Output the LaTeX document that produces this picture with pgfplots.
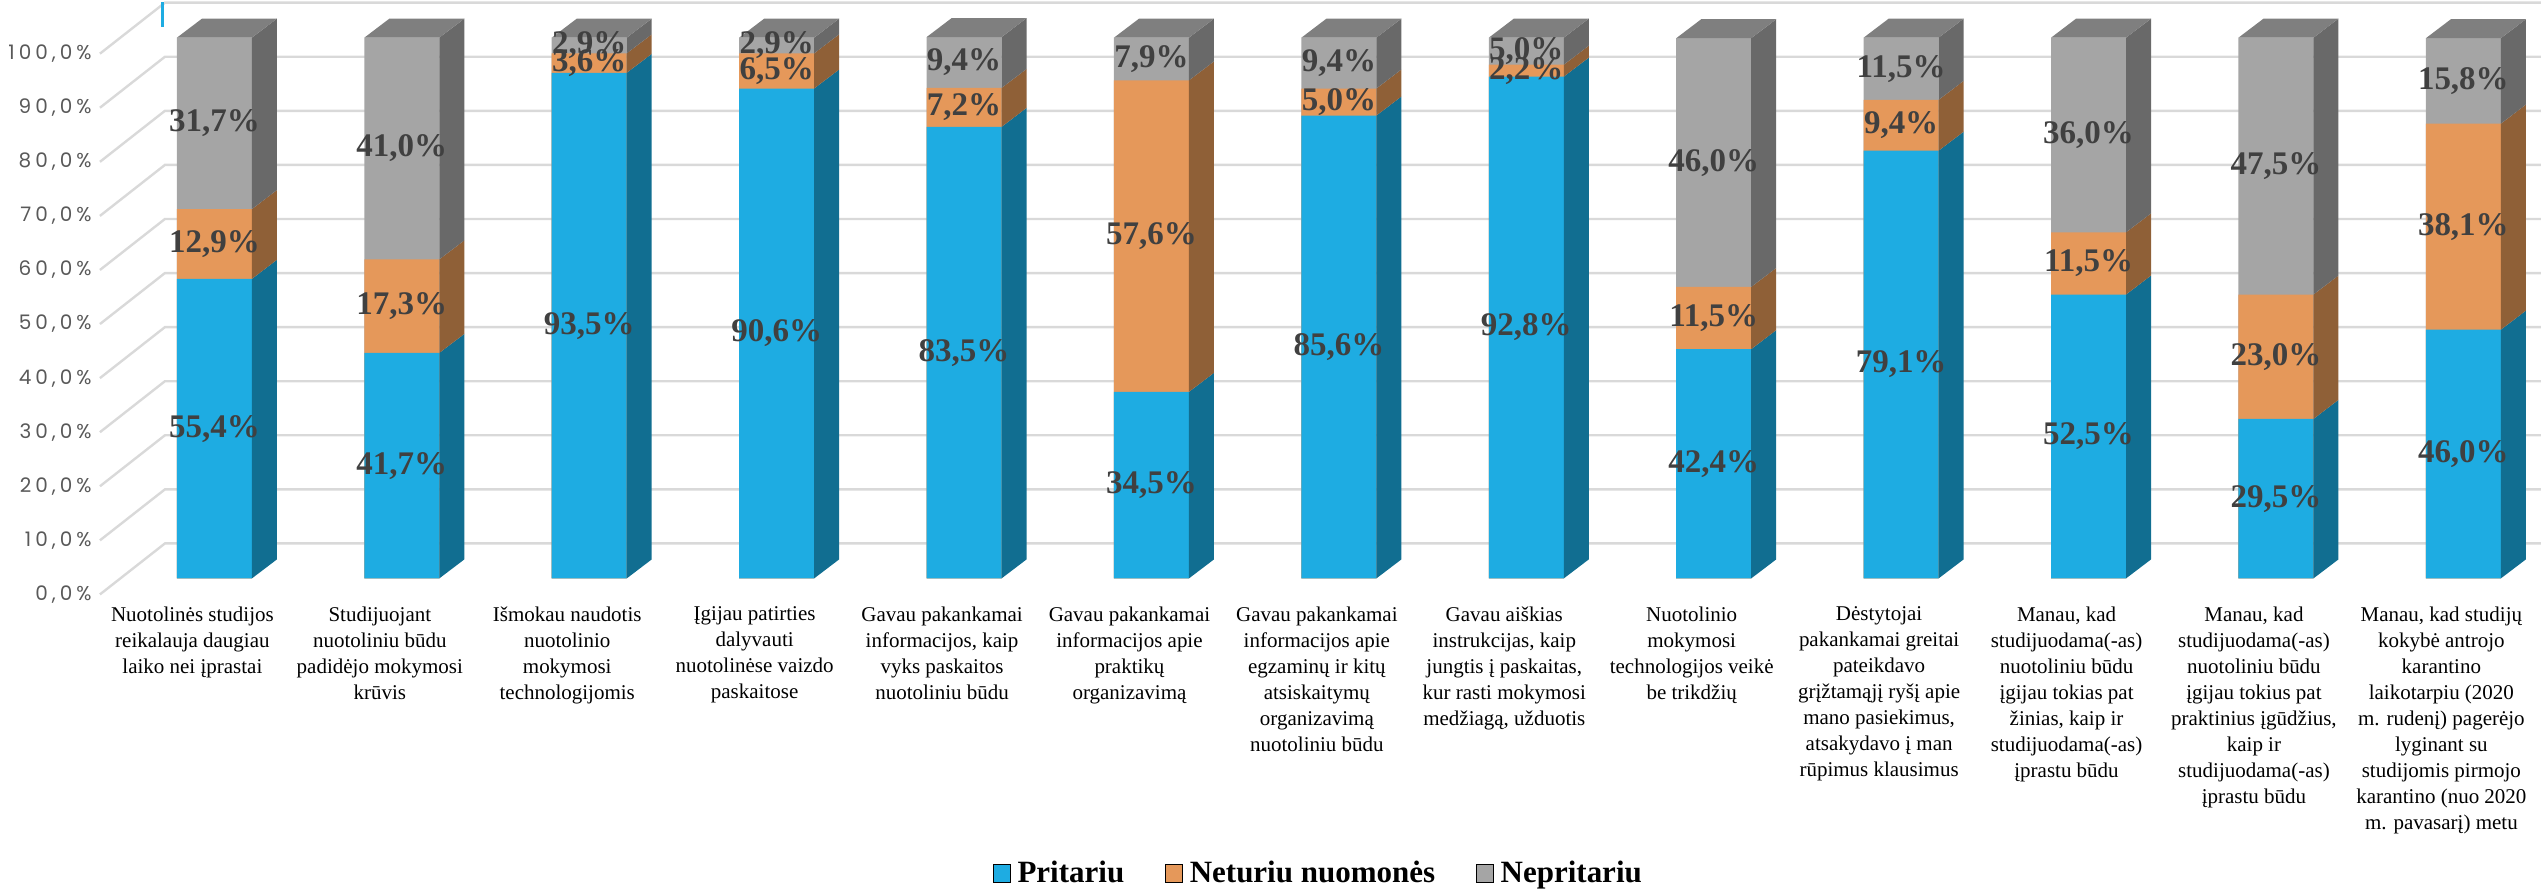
\documentclass[border=0pt]{standalone}
\usepackage{fontspec}
\setmainfont{Liberation Serif}
\newfontfamily\tickfont[LetterSpace=20]{Poppins}
\usepackage{pgfplots}
\usepackage{pgfplotstable}
\pgfplotsset{compat=1.18}
\definecolor{blueF}{RGB}{30,172,226}
\definecolor{blueS}{RGB}{17,110,145}
\definecolor{oranF}{RGB}{229,152,90}
\definecolor{oranS}{RGB}{143,96,55}
\definecolor{greyF}{RGB}{165,165,165}
\definecolor{greyS}{RGB}{105,105,105}
\definecolor{greyT}{RGB}{127,127,127}
\definecolor{gridc}{RGB}{217,217,217}
\definecolor{labc}{RGB}{64,64,64}
\definecolor{tickc}{RGB}{89,89,89}

\pgfplotstableread{
p n d
55.4 12.9 31.7
41.7 17.3 41.0
93.5 3.6 2.9
90.6 6.5 2.9
83.5 7.2 9.4
34.5 57.6 7.9
85.6 5.0 9.4
92.8 2.2 5.0
42.4 11.5 46.0
79.1 9.4 11.5
52.5 11.5 36.0
29.5 23.0 47.5
46.0 38.1 15.8
}\datatable

\def\bdx{0.1333}
\def\bdy{3.51}

\pgfplotsset{vlab/.style={draw=none, mark=none, forget plot, point meta=explicit,
  /pgf/number format/fixed, /pgf/number format/fixed zerofill,
  /pgf/number format/precision=1, /pgf/number format/use comma,
  /pgf/number format/assume math mode=true,
  nodes near coords={\pgfmathprintnumber{\pgfplotspointmeta}\%},
  nodes near coords style={anchor=center, inner sep=0pt, text=labc,
     font=\bfseries\fontsize{16.5}{17}\selectfont}}}

\begin{document}
\begin{tikzpicture}
\begin{axis}[
  width=1271pt, height=444.5pt, scale only axis,
  xmin=-1.144, xmax=12.4133, ymin=-57.671, ymax=106.654,
  clip=false, axis line style={draw=none}, major tick length=0pt,
  tick style={draw=none},
  ytick={-2.957,7.043,17.043,27.043,37.043,47.043,57.043,67.043,77.043,87.043,97.043},
  yticklabels={{0,0\%},{10,0\%},{20,0\%},{30,0\%},{40,0\%},{50,0\%},{60,0\%},{70,0\%},{80,0\%},{90,0\%},{100,0\%}},
  yticklabel style={anchor=east, xshift=46pt, inner sep=0pt, text=tickc,
     font=\tickfont\fontsize{10}{11}\selectfont},
  xtick={0,...,12},
  xticklabels={
   {Nuotolinės studijos\\reikalauja daugiau\\laiko nei įprastai},
   {Studijuojant\\nuotoliniu būdu\\padidėjo mokymosi\\krūvis},
   {Išmokau naudotis\\nuotolinio\\mokymosi\\technologijomis},
   {Įgijau patirties\\dalyvauti\\nuotolinėse vaizdo\\paskaitose},
   {Gavau pakankamai\\informacijos, kaip\\vyks paskaitos\\nuotoliniu būdu},
   {Gavau pakankamai\\informacijos apie\\praktikų\\organizavimą},
   {Gavau pakankamai\\informacijos apie\\egzaminų ir kitų\\atsiskaitymų\\organizavimą\\nuotoliniu būdu},
   {Gavau aiškias\\instrukcijas, kaip\\jungtis į paskaitas,\\kur rasti mokymosi\\medžiagą, užduotis},
   {Nuotolinio\\mokymosi\\technologijos veikė\\be trikdžių},
   {Dėstytojai\\pakankamai greitai\\pateikdavo\\grįžtamąjį ryšį apie\\mano pasiekimus,\\atsakydavo į man\\rūpimus klausimus},
   {Manau, kad\\studijuodama(-as)\\nuotoliniu būdu\\įgijau tokias pat\\žinias, kaip ir\\studijuodama(-as)\\įprastu būdu},
   {Manau, kad\\studijuodama(-as)\\nuotoliniu būdu\\įgijau tokius pat\\praktinius įgūdžius,\\kaip ir\\studijuodama(-as)\\įprastu būdu},
   {Manau, kad studijų\\kokybė antrojo\\karantino\\laikotarpiu (2020\\m. rudenį) pagerėjo\\lyginant su\\studijomis pirmojo\\karantino (nuo 2020\\m. pavasarį) metu}},
  xticklabel style={anchor=north, align=center, inner sep=0pt, yshift=142pt, xshift=-11pt,
     font=\fontsize{10.5}{13}\selectfont},
  legend columns=3,
  legend style={at={(0.5185,0.0191)}, anchor=center, draw=none, fill=none,
     font=\bfseries\fontsize{15.5}{16}\selectfont,
     nodes={inner sep=0pt},
     /tikz/every even column/.append style={column sep=20.5pt},
     /tikz/every odd column/.append style={column sep=3.5pt}},
  legend image code/.code={\fill[#1] (0pt,-4.3pt) rectangle (8.4pt,4.3pt);},
]
% back wall grid with floor diagonals
\pgfplotsinvokeforeach{0,10,...,100}{%
  \pgfmathsetmacro\ga{#1-2.957}%
  \pgfmathsetmacro\gb{#1+6.47}%
  \edef\tmp{\noexpand\addplot[gridc, line width=1.2pt, forget plot] coordinates {(-0.6107,\ga) (-0.264,\gb) (12.4133,\gb)};}\tmp
}
\addplot[blueF, line width=1.7pt, forget plot] coordinates {(-0.2773,102.0) (-0.2773,106.654)};
% front faces
\addplot[ybar, bar width=0.4, bar shift=0, fill=greyF, draw=none, forget plot]
  table[x expr=\coordindex, y expr=\thisrow{p}+\thisrow{n}+\thisrow{d}] {\datatable};
\addplot[ybar, bar width=0.4, bar shift=0, fill=oranF, draw=none, forget plot]
  table[x expr=\coordindex, y expr=\thisrow{p}+\thisrow{n}] {\datatable};
\addplot[ybar, bar width=0.4, bar shift=0, fill=blueF, draw=none, forget plot]
  table[x expr=\coordindex, y=p] {\datatable};
% side and top faces
\pgfplotsinvokeforeach{0,...,12}{%
  \pgfplotstablegetelem{#1}{p}\of\datatable \edef\vp{\pgfplotsretval}%
  \pgfplotstablegetelem{#1}{n}\of\datatable \edef\vn{\pgfplotsretval}%
  \pgfplotstablegetelem{#1}{d}\of\datatable \edef\vd{\pgfplotsretval}%
  \pgfmathsetmacro\xa{#1+0.2}%
  \pgfmathsetmacro\xb{#1+0.2+\bdx}%
  \pgfmathsetmacro\xc{#1-0.2}%
  \pgfmathsetmacro\xd{#1-0.2+\bdx}%
  \pgfmathsetmacro\ya{\vp}%
  \pgfmathsetmacro\yb{\vp+\vn}%
  \pgfmathsetmacro\yc{\vp+\vn+\vd}%
  \pgfmathsetmacro\yA{\ya+\bdy}%
  \pgfmathsetmacro\yB{\yb+\bdy}%
  \pgfmathsetmacro\yC{\yc+\bdy}%
  \edef\tmp{%
   \noexpand\addplot[fill=blueS, draw=none, forget plot] coordinates {(\xa,0) (\xb,\bdy) (\xb,\yA) (\xa,\ya)};
   \noexpand\addplot[fill=oranS, draw=none, forget plot] coordinates {(\xa,\ya) (\xb,\yA) (\xb,\yB) (\xa,\yb)};
   \noexpand\addplot[fill=greyS, draw=none, forget plot] coordinates {(\xa,\yb) (\xb,\yB) (\xb,\yC) (\xa,\yc)};
   \noexpand\addplot[fill=greyT, draw=none, forget plot] coordinates {(\xc,\yc) (\xd,\yC) (\xb,\yC) (\xa,\yc)};
  }\tmp
}
% value labels
\pgfplotsinvokeforeach{0,...,12}{%
  \pgfplotstablegetelem{#1}{p}\of\datatable \edef\vp{\pgfplotsretval}%
  \pgfplotstablegetelem{#1}{n}\of\datatable \edef\vn{\pgfplotsretval}%
  \pgfplotstablegetelem{#1}{d}\of\datatable \edef\vd{\pgfplotsretval}%
  \pgfmathsetmacro\cp{\vp/2}%
  \pgfmathsetmacro\cn{\vp+\vn/2}%
  \pgfmathsetmacro\cd{\vp+\vn+\vd/2}%
  \edef\tmp{\noexpand\addplot[vlab] coordinates {(#1,\cp) [\vp] (#1,\cn) [\vn] (#1,\cd) [\vd]};}\tmp
}
\addlegendimage{fill=blueF}\addlegendentry{Pritariu}
\addlegendimage{fill=oranF}\addlegendentry{Neturiu nuomonės}
\addlegendimage{fill=greyF}\addlegendentry{Nepritariu}
\end{axis}
\end{tikzpicture}
\end{document}
